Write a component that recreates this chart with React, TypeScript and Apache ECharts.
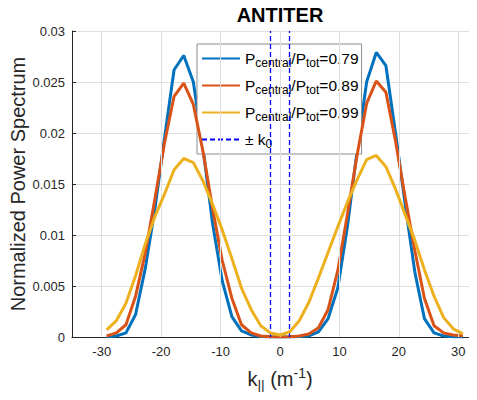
import React, { useEffect, useRef } from "react";
import * as echarts from "echarts";

// k_parallel grid (m^-1)
const kValues = [
  -29.16, -27.54, -25.92, -24.3, -22.68, -21.06, -19.44, -17.82, -16.2, -14.58,
  -12.96, -11.34, -9.72, -8.1, -6.48, -4.86, -3.24, -1.62, 0, 1.62,
  3.24, 4.86, 6.48, 8.1, 9.72, 11.34, 12.96, 14.58, 16.2, 17.82,
  19.44, 21.06, 22.68, 24.3, 25.92, 27.54, 29.16, 30.78,
];

// Pcentral/Ptot = 0.79
const spectrum079 = [
  0.00003, 0.0001, 0.0004, 0.0022, 0.0067, 0.0125, 0.0195, 0.0262, 0.0276, 0.025,
  0.0185, 0.0111, 0.0055, 0.002, 0.0006, 0.0002, 0.00005, 0.00001, 0, 0.00001,
  0.00005, 0.0001, 0.0005, 0.0018, 0.0048, 0.0108, 0.0182, 0.025, 0.0279, 0.0266,
  0.02, 0.013, 0.0064, 0.0018, 0.0004, 0.0001, 0.00003, 0.00001,
];

// Pcentral/Ptot = 0.89
const spectrum089 = [
  0.0001, 0.0004, 0.0012, 0.004, 0.0082, 0.0135, 0.019, 0.0236, 0.0249, 0.0228,
  0.0182, 0.0126, 0.0075, 0.0038, 0.0012, 0.0004, 0.0001, 0.00003, 0.00001, 0.00003,
  0.0001, 0.0003, 0.0009, 0.0027, 0.0065, 0.012, 0.0178, 0.0229, 0.0251, 0.024,
  0.0192, 0.0137, 0.0085, 0.0038, 0.0011, 0.0004, 0.0002, 0.0001,
];

// Pcentral/Ptot = 0.99
const spectrum099 = [
  0.0007, 0.0016, 0.0033, 0.006, 0.0091, 0.0118, 0.014, 0.0164, 0.0175, 0.0171,
  0.0153, 0.013, 0.0105, 0.0077, 0.0048, 0.0027, 0.0011, 0.0004, 0.0002, 0.0005,
  0.0016, 0.0034, 0.0058, 0.0083, 0.0108, 0.0132, 0.0154, 0.0174, 0.0178, 0.0167,
  0.0145, 0.012, 0.0095, 0.0066, 0.004, 0.0019, 0.0008, 0.0003,
];

const ratioLabels = ["0.79", "0.89", "0.99"];
const seriesColors = ["#0072BD", "#D95319", "#EDB120"];
const k0 = 1.6;
const xTicks = [-30, -20, -10, 0, 10, 20, 30];
const yTicks = [0, 0.005, 0.01, 0.015, 0.02, 0.025, 0.03];

const FONT = "'Liberation Sans', Arial, Helvetica, sans-serif";
const K0_NAME = "± k0";
const GRID_COLOR = "#dfdfdf";

export default function App() {
  const ref = useRef<HTMLDivElement>(null);

  useEffect(() => {
    if (!ref.current) return;
    const chart = echarts.init(ref.current, undefined, { renderer: "svg" });

    const spectra = [spectrum079, spectrum089, spectrum099];
    const names = ratioLabels.map((r) => `Pcentral/Ptot=${r}`);

    const lineSeries = spectra.map((vals, i) => ({
      type: "line",
      name: names[i],
      data: kValues.map((k, j) => [k, vals[j]]),
      symbol: "none",
      showSymbol: false,
      lineStyle: { color: seriesColors[i], width: 3 },
      itemStyle: { color: seriesColors[i] },
      z: 3 + i,
    }));

    const option: any = {
      animation: false,
      backgroundColor: "#ffffff",
      grid: {
        left: 72,
        top: 31,
        right: -11,
        bottom: 63,
        outerBoundsMode: "none",
        containLabel: false,
      },
      graphic: [
        {
          type: "text",
          x: 280,
          y: 15,
          style: {
            text: "ANTITER",
            font: `bold 20px ${FONT}`,
            textAlign: "center",
            textVerticalAlign: "middle",
            fill: "#000000",
          },
        },
      ],
      xAxis: {
        type: "value",
        min: -35,
        max: 35,
        name: "{a|k}{sub|||}{a| (m}{sup|-1}{a|)}",
        nameLocation: "middle",
        nameGap: 30,
        nameMoveOverlap: false,
        nameTextStyle: {
          color: "#262626",
          fontFamily: FONT,
          rich: {
            a: { fontSize: 20, lineHeight: 24, fontFamily: FONT, color: "#262626" },
            sub: { fontSize: 14, lineHeight: 24, padding: [14, 0, 0, 0], fontFamily: FONT, color: "#262626" },
            sup: { fontSize: 14, lineHeight: 24, padding: [0, 0, 12, 0], fontFamily: FONT, color: "#262626" },
          },
        },
        axisLine: { show: true, onZero: false, lineStyle: { color: "#262626", width: 1 } },
        axisTick: { show: true, inside: true, length: 4, customValues: xTicks, lineStyle: { color: "#262626" } },
        axisLabel: {
          customValues: xTicks,
          color: "#262626",
          fontFamily: FONT,
          fontSize: 13,
          margin: 8,
        },
        splitLine: { show: false },
      },
      yAxis: {
        type: "value",
        min: 0,
        max: 0.03,
        interval: 0.005,
        name: "Normalized Power Spectrum",
        nameLocation: "middle",
        nameGap: 44,
        nameMoveOverlap: false,
        nameTextStyle: { color: "#262626", fontFamily: FONT, fontSize: 20 },
        axisLine: { show: true, onZero: false, lineStyle: { color: "#262626", width: 1 } },
        axisTick: { show: true, inside: true, length: 4, lineStyle: { color: "#262626" } },
        axisLabel: {
          color: "#262626",
          fontFamily: FONT,
          fontSize: 13,
          margin: 7,
          formatter: (v: number) => {
            const t = yTicks.find((y) => Math.abs(y - v) < 1e-9);
            return t === undefined ? "" : String(t);
          },
        },
        splitLine: { show: true, lineStyle: { color: GRID_COLOR, width: 1 } },
      },
      legend: {
        orient: "vertical",
        left: 197,
        top: 44,
        itemWidth: 38,
        itemHeight: 14,
        itemGap: 6,
        padding: [4, 3, 4, 4],
        backgroundColor: "#ffffff",
        borderColor: "#8c8c8c",
        borderWidth: 1,
        borderRadius: 0,
        selectedMode: false,
        itemStyle: { opacity: 0 },
        data: [...names, K0_NAME],
        formatter: (name: string) => {
          if (name === K0_NAME) return "{a|± k}{s|0}";
          const r = name.split("=")[1];
          return `{a|P}{s|central}{a|/P}{s|tot}{a|=${r}}`;
        },
        textStyle: {
          fontFamily: FONT,
          color: "#000000",
          rich: {
            a: { fontSize: 15.5, lineHeight: 20, fontFamily: FONT, color: "#000000" },
            s: { fontSize: 12, lineHeight: 20, padding: [9, 0, 0, 0], fontFamily: FONT, color: "#000000" },
          },
        },
      },
      series: [
        {
          type: "line",
          name: "xgrid",
          data: [],
          silent: true,
          z: 0,
          markLine: {
            silent: true,
            symbol: ["none", "none"],
            label: { show: false },
            lineStyle: { color: GRID_COLOR, width: 1, type: "solid" },
            data: xTicks.map((t) => ({ xAxis: t })),
          },
        },
        {
          type: "line",
          name: K0_NAME,
          data: [],
          symbol: "none",
          lineStyle: { color: "#0000ff", width: 1.3, type: [5, 3] },
          itemStyle: { color: "#0000ff" },
          z: 2,
          markLine: {
            silent: true,
            symbol: ["none", "none"],
            label: { show: false },
            lineStyle: { color: "#0000ff", width: 1.3, type: [5, 3] },
            data: [{ xAxis: -k0 }, { xAxis: k0 }],
          },
        },
        ...lineSeries,
      ],
    };

    chart.setOption(option);
    return () => chart.dispose();
  }, []);

  return <div ref={ref} style={{ width: 477, height: 400, margin: -8 }} />;
}
